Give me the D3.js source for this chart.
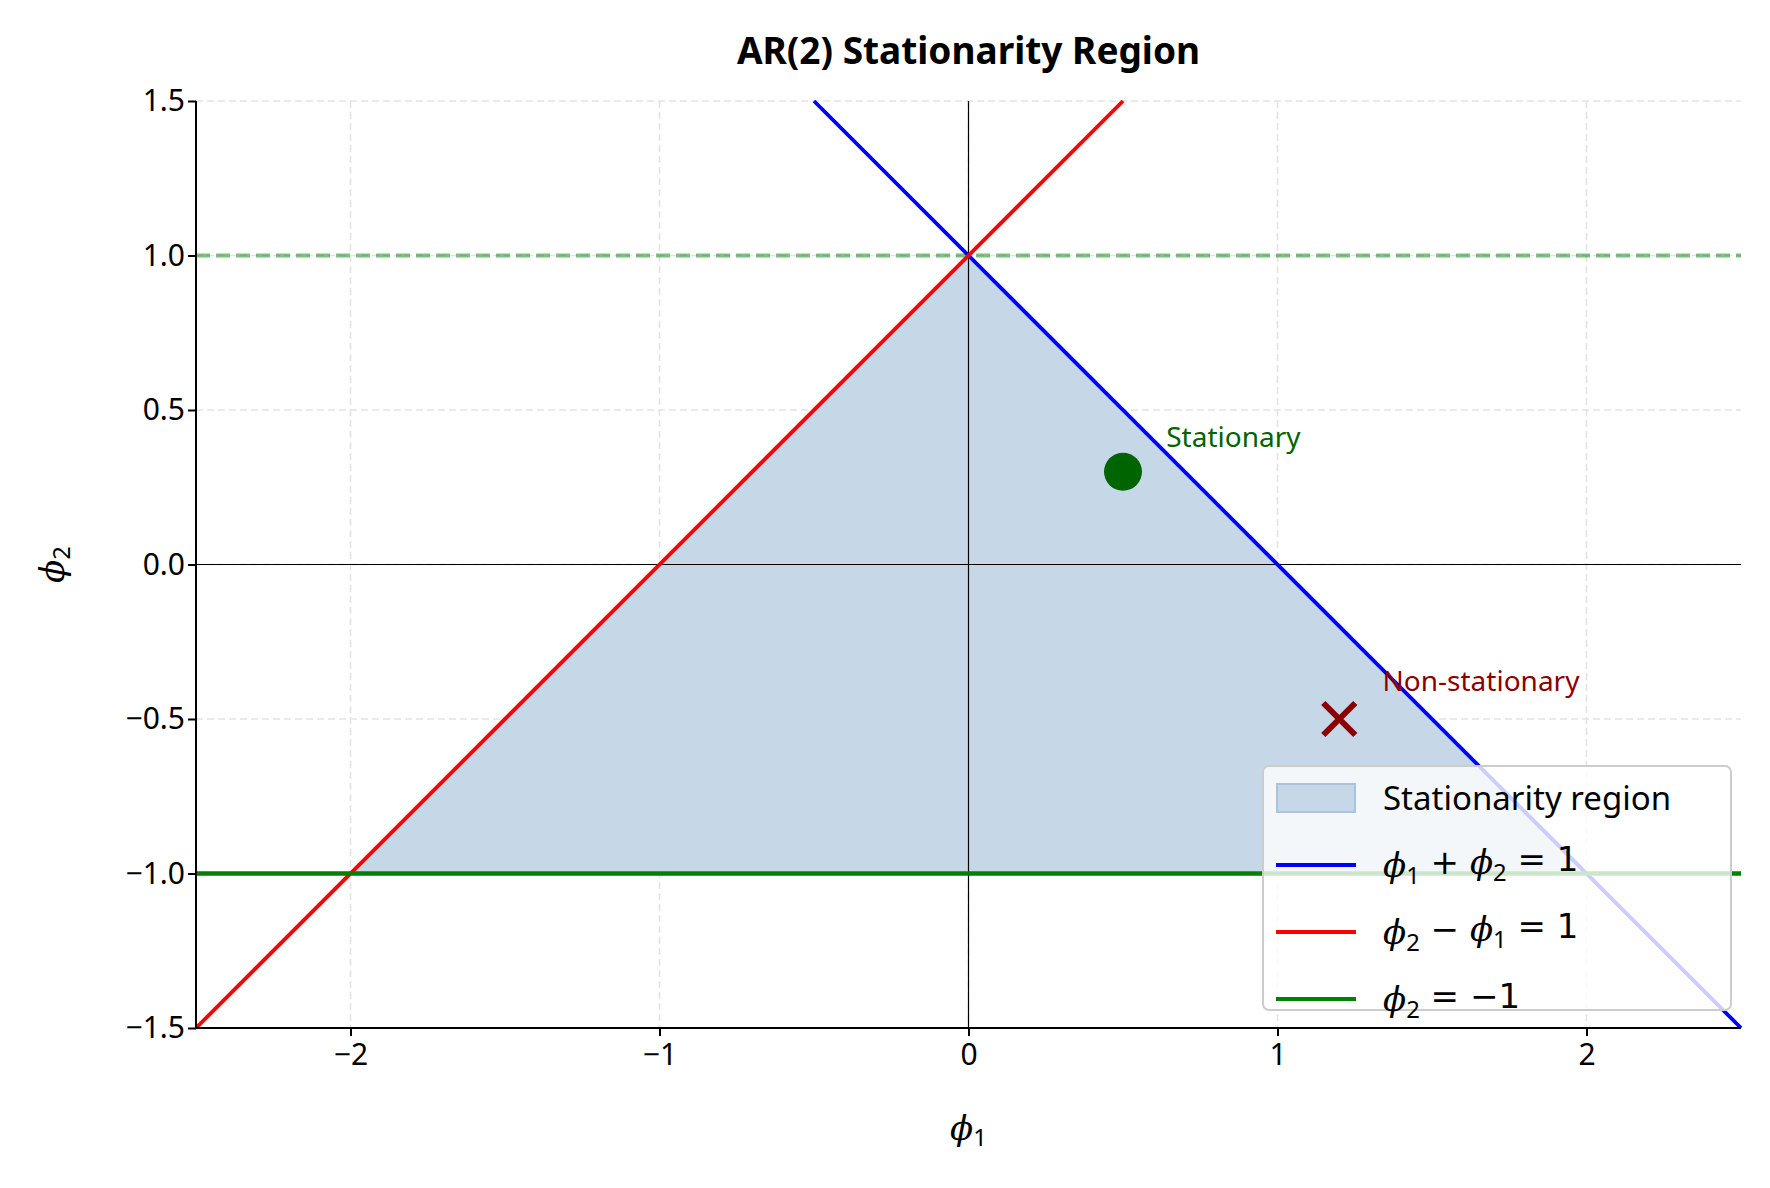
<!DOCTYPE html>
<html><head><meta charset="utf-8">
<script src="https://cdn.jsdelivr.net/npm/d3@7"></script>
<style>body{margin:0;background:#fff}text{font-family:"Noto Sans",sans-serif}</style>
</head><body><svg id="c" width="1770" height="1188"></svg>
<script>
const xTicks=[-2,-1,0,1,2];
const yTicks=[-1.5,-1.0,-0.5,0.0,0.5,1.0,1.5];
const region=[[-2,-1],[0,1],[2,-1]];
const blueLine=[[-0.5,1.5],[2.5,-1.5]];
const redLine=[[-2.5,-1.5],[0.5,1.5]];
const stationaryPt=[0.5,0.3];
const nonStatPt=[1.2,-0.5];
const svg=d3.select("#c");
const m={l:196,r:1741,t:101,b:1028};
const x=d3.scaleLinear().domain([-2.5,2.5]).range([m.l,m.r]);
const y=d3.scaleLinear().domain([-1.5,1.5]).range([m.b,m.t]);
const g=svg.append("g");
xTicks.forEach(t=>g.append("line").attr("x1",x(t)).attr("x2",x(t)).attr("y1",m.t).attr("y2",m.b).attr("stroke","#e3e3e3").attr("stroke-width",1.6).attr("stroke-dasharray","7,4"));
yTicks.forEach(t=>g.append("line").attr("y1",y(t)).attr("y2",y(t)).attr("x1",m.l).attr("x2",m.r).attr("stroke","#e3e3e3").attr("stroke-width",1.6).attr("stroke-dasharray","7,4"));
const line=d3.line().x(d=>x(d[0])).y(d=>y(d[1]));
g.append("path").attr("d",line(region)+"Z").attr("fill","#c6d8e7");
g.append("line").attr("x1",m.l).attr("x2",m.r).attr("y1",y(0)).attr("y2",y(0)).attr("stroke","#000").attr("stroke-width",1.2);
g.append("line").attr("x1",x(0)).attr("x2",x(0)).attr("y1",m.t).attr("y2",m.b).attr("stroke","#000").attr("stroke-width",1.2);
g.append("line").attr("x1",m.l).attr("x2",m.r).attr("y1",y(1)).attr("y2",y(1)).attr("stroke","green").attr("stroke-opacity",0.5).attr("stroke-width",4).attr("stroke-dasharray","14,6");
g.append("path").attr("d",line(blueLine)).attr("stroke","blue").attr("stroke-width",3.8).attr("fill","none");
g.append("path").attr("d",line(redLine)).attr("stroke","red").attr("stroke-width",3.8).attr("fill","none");
g.append("line").attr("x1",m.l).attr("x2",m.r).attr("y1",y(-1)).attr("y2",y(-1)).attr("stroke","green").attr("stroke-width",4.5);
g.append("circle").attr("cx",x(stationaryPt[0])).attr("cy",y(stationaryPt[1])).attr("r",19).attr("fill","darkgreen");
const cx=x(nonStatPt[0]),cy=y(nonStatPt[1]);
g.append("path").attr("d",`M${cx-16},${cy-16}L${cx+16},${cy+16}M${cx-16},${cy+16}L${cx+16},${cy-16}`).attr("stroke","darkred").attr("stroke-width",6);
g.append("text").attr("x",x(0.64)).attr("y",y(0.38)).attr("font-size",28).attr("fill","darkgreen").text("Stationary");
g.append("text").attr("x",x(1.34)).attr("y",y(-0.41)).attr("font-size",28).attr("fill","darkred").text("Non-stationary");
const xa=svg.append("g").attr("transform",`translate(0,${m.b})`).call(d3.axisBottom(x).tickValues(xTicks).tickSize(8).tickFormat(d=>d<0?"−"+(-d):d));
const ya=svg.append("g").attr("transform",`translate(${m.l},0)`).call(d3.axisLeft(y).tickValues(yTicks).tickSize(8).tickFormat(d=>(d<0?"−":"")+Math.abs(d).toFixed(1)));
[xa,ya].forEach(a=>{a.selectAll("path,line").attr("stroke","#000").attr("stroke-width",2);a.selectAll("text").attr("font-size",30).attr("fill","#000").style("font-family","Noto Sans");});
xa.selectAll("text").attr("dy","0.85em");
ya.select(".domain").attr("d",`M0,${m.t}V${m.b}`);xa.select(".domain").attr("d",`M${m.l},0H${m.r}`);
svg.append("text").attr("x",(m.l+m.r)/2).attr("y",64).attr("text-anchor","middle").attr("font-size",37).attr("font-weight","bold").text("AR(2) Stationarity Region");
function phi(sel,parts){parts.forEach(p=>{const t=sel.append("tspan").text(p[0]);if(p[1]){t.attr("font-style","italic").style("font-family","DejaVu Serif")}if(p[2]){t.attr("font-size","0.7em").attr("dy",p[2])}});return sel;}
phi(svg.append("text").attr("x",(m.l+m.r)/2).attr("y",1140).attr("text-anchor","middle").attr("font-size",34),[["ϕ",1],["1",0,"0.25em"]]);
phi(svg.append("text").attr("transform",`translate(64,${(m.t+m.b)/2}) rotate(-90)`).attr("text-anchor","middle").attr("font-size",34),[["ϕ",1],["2",0,"0.25em"]]);
const L=svg.append("g").attr("transform","translate(1263,766)");
L.append("rect").attr("width",468).attr("height",244).attr("rx",6).attr("fill","#fff").attr("fill-opacity",0.8).attr("stroke","#ccc").attr("stroke-width",2);
L.append("rect").attr("x",14).attr("y",18).attr("width",78).attr("height",28).attr("fill","#c6d8e7").attr("stroke","#a9c4dc").attr("stroke-width",2);
const items=[["blue",[["ϕ",1],["1",0,"0.3em"],[" + ",0,null],["ϕ",1],["2",0,"0.3em"],[" = 1",0,null]]],["red",[["ϕ",1],["2",0,"0.3em"],[" − ",0,null],["ϕ",1],["1",0,"0.3em"],[" = 1",0,null]]],["green",[["ϕ",1],["2",0,"0.3em"],[" = −1",0,null]]]];
L.append("text").attr("x",120).attr("y",44).attr("font-size",33).text("Stationarity region");
items.forEach((it,i)=>{const yy=99+i*67;L.append("line").attr("x1",13).attr("x2",93).attr("y1",yy).attr("y2",yy).attr("stroke",it[0]).attr("stroke-width",4);
 const t=L.append("text").attr("x",120).attr("y",yy+12).attr("font-size",34);
 it[1].forEach(p=>{const s=t.append("tspan").text(p[0]);if(p[1])s.attr("font-style","italic").style("font-family","DejaVu Serif");if(p[2]){s.attr("font-size","0.7em").attr("dy",p[2]);}else if(p[2]===null){s.attr("dy","-0.3em").style("font-family","DejaVu Sans");}});});
</script></body></html>
